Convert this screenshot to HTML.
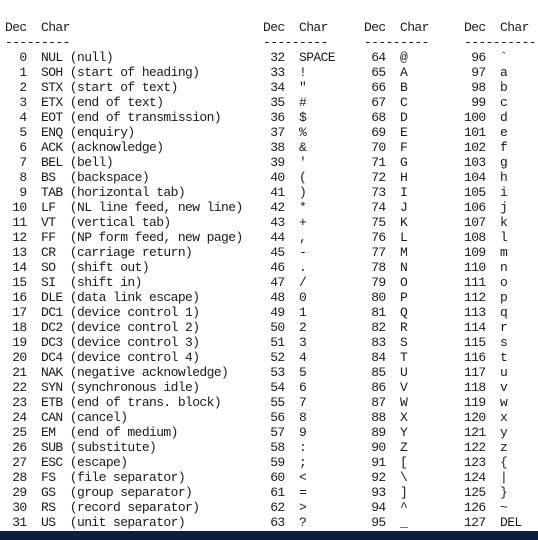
<!DOCTYPE html>
<html><head><meta charset="utf-8">
<style>
html,body{margin:0;padding:0;background:#fff;}
body{width:538px;height:540px;position:relative;overflow:hidden;}
.col{position:absolute;top:20px;margin:0;font-family:"Liberation Mono","DejaVu Sans Mono",monospace;font-size:13px;letter-spacing:-0.6px;line-height:15px;color:#1a1a1a;white-space:pre;}
#bar{position:absolute;left:0;top:531px;width:538px;height:9px;background:#0e1d3b;}
</style></head>
<body>
<pre class="col" id="c1" style="left:5px"></pre>
<pre class="col" id="c2" style="left:263px"></pre>
<pre class="col" id="c3" style="left:364px"></pre>
<pre class="col" id="c4" style="left:464px"></pre>
<div id="bar"></div>
<script>
const ctrl = ["NUL (null)","SOH (start of heading)","STX (start of text)","ETX (end of text)","EOT (end of transmission)","ENQ (enquiry)","ACK (acknowledge)","BEL (bell)","BS  (backspace)","TAB (horizontal tab)","LF  (NL line feed, new line)","VT  (vertical tab)","FF  (NP form feed, new page)","CR  (carriage return)","SO  (shift out)","SI  (shift in)","DLE (data link escape)","DC1 (device control 1)","DC2 (device control 2)","DC3 (device control 3)","DC4 (device control 4)","NAK (negative acknowledge)","SYN (synchronous idle)","ETB (end of trans. block)","CAN (cancel)","EM  (end of medium)","SUB (substitute)","ESC (escape)","FS  (file separator)","GS  (group separator)","RS  (record separator)","US  (unit separator)"];
function pad(n){return String(n).padStart(3,' ');}
function build(id,start,dashes,fn){
  let s="Dec  Char\n"+"-".repeat(dashes)+"\n";
  for(let i=0;i<32;i++){const c=start+i;s+=pad(c)+"  "+fn(c,i)+"\n";}
  document.getElementById(id).textContent=s;
}
build("c1",0,9,(c,i)=>ctrl[i]);
build("c2",32,9,(c)=>c===32?"SPACE":String.fromCharCode(c));
build("c3",64,9,(c)=>String.fromCharCode(c));
build("c4",96,10,(c)=>c===127?"DEL":String.fromCharCode(c));
</script>
</body></html>
